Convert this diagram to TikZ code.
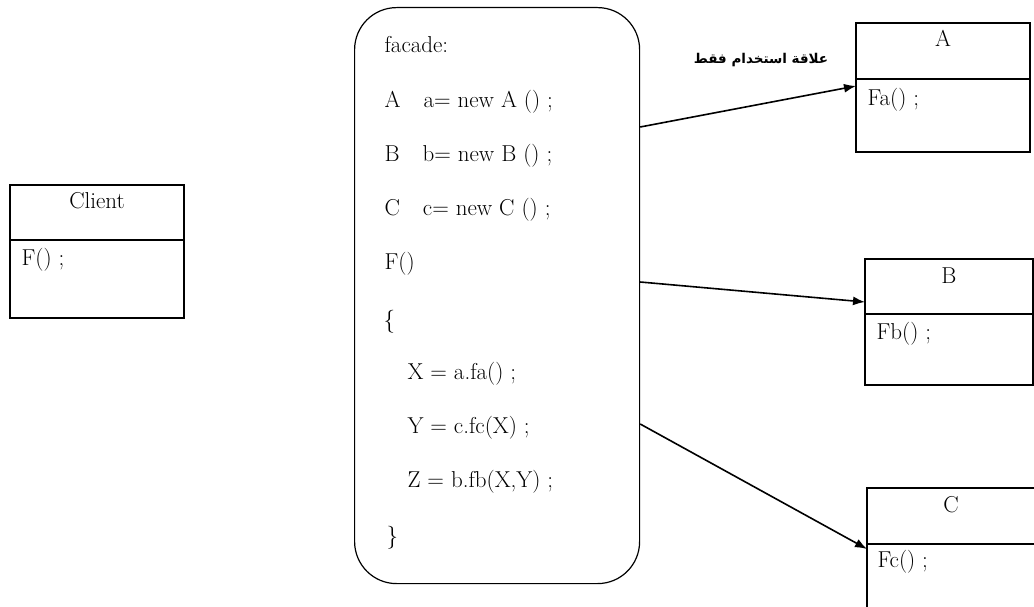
\documentclass[tikz,border=0pt]{standalone}
\usepackage{fontspec}
\newfontfamily\arabicfont[Script=Arabic]{DejaVu Sans}
\TeXXeTstate=1
\usetikzlibrary{arrows.meta,positioning,calc}
\tikzset{every picture/.style={line width=1.2pt}}
\tikzset{
classbox/.style={draw, inner sep=0pt, outer sep=0pt},
codeline/.style={anchor=base west, inner sep=0pt, font=\fontsize{23}{27}\selectfont},
classname/.style={anchor=base, inner sep=0pt, font=\fontsize{23}{27}\selectfont},
uses/.style={line width=1.6pt, -{Latex[length=12pt,width=9pt]}}}

\begin{document}
\begin{tikzpicture}[x=1pt,y=1pt,yscale=-1,xscale=1]
\useasboundingbox (0,0) rectangle (1034,607);

%Client class
\node [classbox, anchor=north west, minimum width=174pt, minimum height=55pt] (clientHead) at (10,185) {};
\node [classbox, below=0pt of clientHead, minimum width=174pt, minimum height=78pt] (clientBody) {};
%facade
\node [draw, rounded corners=42pt, anchor=north west, minimum width=285pt, minimum height=576pt] (facade) at (354,7) {};
%class A
\node [classbox, anchor=north west, minimum width=174pt, minimum height=56pt] (aHead) at (856,23) {};
\node [classbox, below=0pt of aHead, minimum width=174pt, minimum height=73pt] (aBody) {};
%class B
\node [classbox, anchor=north west, minimum width=168pt, minimum height=55pt] (bHead) at (865,259) {};
\node [classbox, below=0pt of bHead, minimum width=168pt, minimum height=71pt] (bBody) {};
%class C
\node [classbox, anchor=north west, minimum width=168pt, minimum height=56pt] (cHead) at (867,488) {};
\node [classbox, below=0pt of cHead, minimum width=168pt, minimum height=80pt] (cBody) {};

% Text Node
\node [classname] (clientName) at ($(clientHead.north)+(0,23)$) {Client};
\node [codeline] (clientOp) at (21,265) {F() ;};
\node [classname] (aName) at ($(aHead.north)+(0,24)$) {A};
\node [codeline] (aOp) at (867,106) {Fa() ;};
\node [classname] (bName) at ($(bHead.north)+(0,24)$) {B};
\node [codeline] (bOp) at (876,339) {Fb() ;};
\node [classname] (cName) at ($(cHead.north)+(0,24)$) {C};
\node [codeline] (cOp) at (877,567) {Fc() ;};

% facade code
\node [codeline] (lnTitle) at (384,53) {facade:};
\node [codeline] (lnA) at (384,108) {A\quad a= new A () ;};
\node [codeline] (lnB) at (384,162) {B\quad b= new B () ;};
\node [codeline] (lnC) at (384,215) {C\quad c= new C () ;};
\node [codeline] (lnF) at (384,269) {F()};
\node [codeline] (lnOpen) at (383,327) {\{};
\node [codeline] (lnX) at (407,379) {X = a.fa() ;};
\node [codeline] (lnY) at (407,433) {Y = c.fc(X) ;};
\node [codeline] (lnZ) at (407,487) {Z = b.fb(X,Y) ;};
\node [codeline] (lnClose) at (386,543) {\}};

% Arabic label
\node [inner sep=0pt, font=\arabicfont\bfseries\fontsize{13.5}{15}\selectfont] (usesLabel) at (761,60) {\beginR علاقة استخدام فقط\endR};

% arrows
\draw [uses] ($(facade.north east)+(0,120)$) -- ($(aBody.north west)+(0,7)$);
\draw [uses] ($(facade.north east)+(0,275)$) -- ($(bHead.south west)+(0,-12)$);
\draw [uses] ($(facade.north east)+(0,417)$) -- ($(cBody.north west)+(0,5)$);

\end{tikzpicture}
\end{document}
